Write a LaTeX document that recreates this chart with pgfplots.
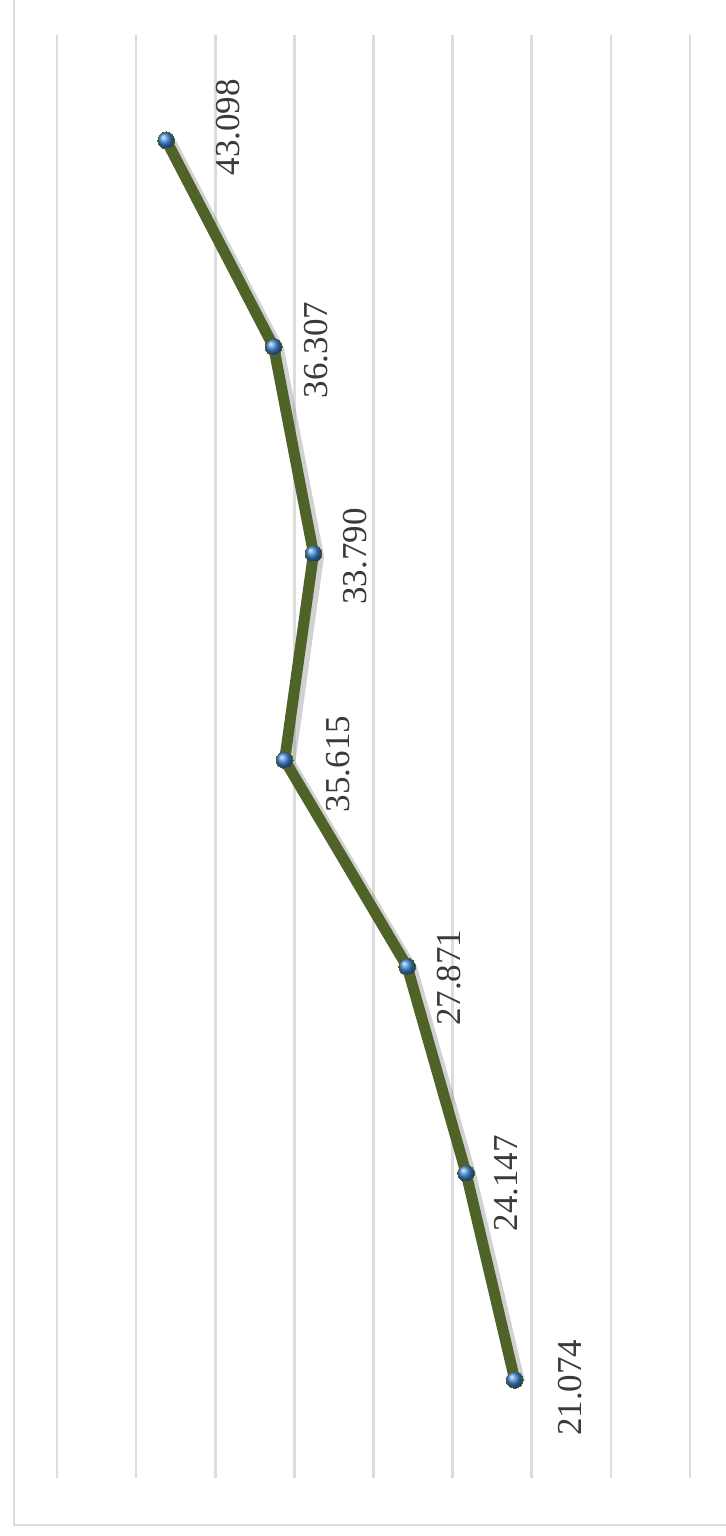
\documentclass[border=0pt]{standalone}
\usepackage{pgfplots}
\pgfplotsset{compat=1.18}
\usepackage{pgfplotstable}
\usepackage{fontspec}
\setmainfont{Liberation Serif}
\definecolor{lineg}{HTML}{4F6228}
\definecolor{gridc}{HTML}{DCDCDC}
\definecolor{labc}{HTML}{3A3A3A}
\definecolor{markb}{HTML}{3F86D6}
\pgfplotstableread{
idx val dx dy
0 21.074 27.5 -4
1 24.147 20 -5
2 27.871 21 -5.5
3 35.615 27 -2
4 33.790 21 -1.5
5 36.307 21 -1.5
6 43.098 31 6.5
}\datatab
\begin{document}
\begin{tikzpicture}
\useasboundingbox (-28.5pt,-29pt) rectangle (334.5pt,739pt);
\draw[gridc, line width=1pt] (-21.5pt,740pt) -- (-21.5pt,-23.5pt) -- (335pt,-23.5pt);
\begin{axis}[
  at={(0,0)}, anchor=south west,
  scale only axis, width=316.5pt, height=721.5pt,
  xmin=10, xmax=50, x dir=reverse,
  ymin=-0.475, ymax=6.51,
  xtick={10,15,...,50}, ytick=\empty,
  xticklabels={}, major tick length=0pt,
  xmajorgrids, grid style={gridc, line width=1.3pt},
  axis line style={draw=none},
  clip=false,
  /pgf/number format/assume math mode=true,
]
\addplot[black!45, opacity=0.4, line width=6.5pt, line join=round,
  transform canvas={xshift=2pt,yshift=-1.5pt}] table[x=val,y=idx] {\datatab};
\addplot[lineg, line width=5.5pt, line join=round, mark=ball, mark size=4.2pt,
  mark options={ball color=markb, draw=none, line width=0pt, solid},
  nodes near coords={\pgfmathprintnumber[fixed,precision=3,fixed zerofill,assume math mode=true]{\pgfplotspointmeta}},
  point meta=explicit,
  visualization depends on={\thisrow{dx} \as \ldx},
  visualization depends on={\thisrow{dy} \as \ldy},
  every node near coord/.append style={xshift=\ldx pt, yshift=\ldy pt, rotate=90, anchor=center,
    font=\fontsize{17.5}{20}\selectfont, text=labc, inner sep=0pt},
] table[x=val,y=idx,meta=val] {\datatab};
\end{axis}
\end{tikzpicture}
\end{document}
